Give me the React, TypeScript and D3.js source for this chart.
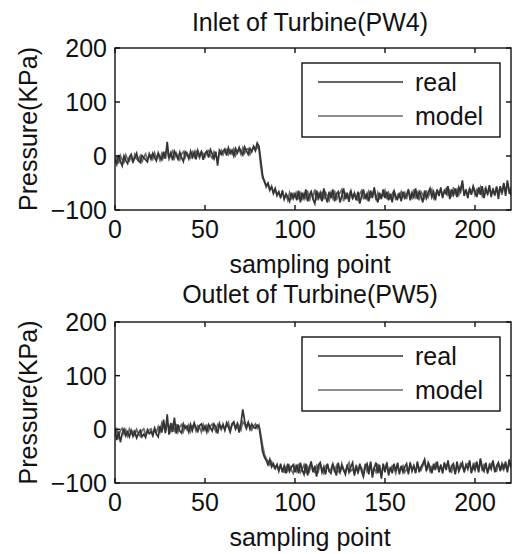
import React from "react";
import * as d3 from "d3";

const xTicks = [0, 50, 100, 150, 200];
const yTicks = [-100, 0, 100, 200];
const seriesNames = ["real", "model"];
const titles = ["Inlet of Turbine(PW4)", "Outlet of Turbine(PW5)"];
const xLabel = "sampling point";
const yLabel = "Pressure(KPa)";

const pw4Real = [
  -5,-15,2,-10,-18,0,-8,-14,-2,3,-10,-4,5,-8,-12,1,-3,-7,-11,4,
  -6,5,-3,-9,6,-2,-7,8,-5,26,-4,6,-8,9,2,-6,7,-3,-10,8,
  4,-5,9,-2,7,-6,10,0,8,-7,5,9,-3,12,4,-5,8,-18,10,3,
  9,13,1,15,5,11,0,14,6,16,8,2,17,10,3,14,8,18,11,24,
  18,-8,-35,-48,-55,-50,-62,-58,-68,-60,-72,-66,-78,-64,-80,-70,-76,-84,-68,-79,
  -70,-82,-64,-86,-68,-78,-62,-84,-72,-66,-80,-88,-64,-78,-68,-84,-60,-76,-86,-66,
  -78,-62,-84,-70,-66,-86,-74,-60,-80,-68,-85,-64,-78,-70,-82,-66,-88,-74,-62,-80,
  -70,-84,-64,-78,-58,-76,-86,-68,-80,-62,-78,-66,-82,-70,-86,-64,-76,-80,-68,-84,
  -66,-78,-72,-62,-82,-68,-76,-60,-80,-66,-74,-86,-64,-78,-68,-60,-76,-66,-82,-62,
  -74,-58,-78,-64,-70,-56,-80,-62,-72,-60,-76,-58,-66,-45,-74,-62,-78,-60,-72,-56,
  -66,-76,-58,-72,-56,-78,-62,-70,-54,-76,-60,-72,-58,-80,-56,-68,-50,-74,-45,-64,-72,
];
const pw4Model = [
  -10,-2,-14,1,-7,-12,2,-6,-9,-1,-13,3,-5,-9,0,-11,-2,4,-7,-1,
  2,-6,6,-4,3,-8,5,-3,7,10,-6,3,9,-4,6,-1,-7,4,8,-3,
  6,-1,-4,7,-2,9,3,-4,8,4,-2,7,10,1,-4,8,2,-8,6,11,
  2,9,12,3,11,4,13,1,9,12,3,15,5,12,14,3,10,17,9,19,
  12,-20,-42,-45,-58,-52,-64,-56,-70,-62,-74,-68,-76,-66,-78,-72,-82,-68,-78,-70,
  -76,-68,-80,-66,-82,-70,-78,-64,-84,-68,-76,-62,-82,-70,-78,-66,-80,-68,-74,-82,
  -68,-78,-64,-82,-72,-68,-62,-84,-70,-78,-74,-64,-80,-68,-76,-82,-70,-64,-78,-72,
  -80,-66,-76,-70,-62,-82,-68,-78,-72,-74,-64,-80,-68,-78,-70,-64,-82,-72,-76,-66,
  -76,-68,-80,-64,-72,-78,-62,-76,-68,-82,-66,-72,-78,-64,-76,-68,-62,-78,-70,-64,
  -70,-62,-74,-66,-60,-72,-64,-76,-58,-70,-62,-72,-58,-52,-70,-64,-74,-60,-68,-58,
  -72,-62,-68,-58,-74,-64,-58,-72,-60,-70,-62,-74,-56,-68,-60,-72,-52,-66,-50,-70,-58,
];
const pw5Real = [
  2,-20,-4,-24,-8,0,-12,-5,-14,-2,-13,-4,-16,-8,-2,-14,-9,-15,-1,-8,
  -4,-12,1,-9,-14,6,-6,18,-7,28,-10,12,-5,22,-8,9,-3,-7,10,2,
  6,-5,9,-2,12,3,-4,7,10,-1,6,-5,9,3,-3,10,4,-8,11,2,
  8,-2,12,4,-5,10,14,1,9,-6,12,37,16,3,13,0,10,4,2,8,
  5,-18,-42,-52,-58,-66,-56,-70,-64,-72,-66,-78,-64,-80,-68,-82,-64,-78,-70,-66,
  -80,-66,-82,-62,-76,-84,-64,-86,-70,-60,-80,-68,-88,-66,-62,-80,-70,-84,-64,-78,
  -82,-64,-76,-86,-62,-80,-68,-76,-84,-66,-80,-70,-62,-86,-68,-82,-64,-78,-88,-70,
  -64,-84,-60,-90,-72,-62,-82,-66,-92,-64,-80,-62,-86,-70,-82,-64,-78,-62,-84,-68,
  -80,-70,-64,-84,-62,-78,-68,-82,-60,-80,-70,-64,-56,-78,-62,-70,-82,-64,-76,-60,
  -80,-66,-82,-62,-76,-58,-80,-68,-64,-84,-60,-78,-70,-62,-80,-66,-74,-58,-82,-66,
  -76,-60,-80,-54,-70,-78,-62,-82,-66,-74,-58,-80,-68,-62,-78,-64,-74,-60,-80,-56,-70,
];
const pw5Model = [
  -8,0,-14,-2,2,-9,-1,-12,1,-7,-3,-10,0,-8,-13,-2,1,-10,-6,-1,
  1,-9,3,-6,5,-5,12,4,-4,8,6,-4,8,-2,10,-5,5,9,-4,6,
  -1,8,-4,6,10,-3,7,4,-5,9,-1,7,-3,6,10,3,-4,9,5,-1,
  10,0,7,13,-2,8,11,1,12,6,-1,14,9,1,12,7,-1,6,10,2,
  8,-10,-30,-46,-54,-60,-66,-60,-70,-74,-66,-76,-68,-78,-80,-70,-78,-68,-76,-82,
  -68,-78,-64,-80,-74,-66,-82,-70,-78,-64,-76,-80,-68,-78,-64,-74,-82,-68,-66,-78,
  -74,-64,-80,-68,-78,-82,-64,-74,-80,-68,-62,-78,-74,-82,-66,-80,-68,-72,-84,-64,
  -78,-70,-64,-82,-72,-80,-64,-78,-86,-68,-74,-64,-80,-76,-68,-72,-82,-66,-78,-74,
  -68,-80,-74,-78,-64,-74,-68,-80,-64,-72,-76,-68,-60,-76,-66,-78,-70,-74,-64,-70,
  -74,-68,-78,-64,-70,-62,-76,-80,-66,-82,-70,-74,-64,-70,-78,-68,-64,-62,-78,-74,
  -64,-70,-76,-58,-78,-66,-70,-80,-72,-64,-62,-76,-78,-64,-70,-74,-66,-70,-76,-62,-72,
];

const panels = [
  { title: titles[0], real: pw4Real, model: pw4Model, top: 48, bottom: 210, titleY: 31, labelY: 273 },
  { title: titles[1], real: pw5Real, model: pw5Model, top: 322, bottom: 483, titleY: 303, labelY: 546 },
];

const LEFT = 115;
const RIGHT = 511;
const FONT = "'Liberation Sans', Arial, sans-serif";
const FS = 25;
const colors = { real: "#333333", model: "#6a6a6a" };

function Panel({ p }: { p: (typeof panels)[number] }) {
  const x = d3.scaleLinear().domain([0, 220]).range([LEFT, RIGHT]);
  const y = d3.scaleLinear().domain([-100, 200]).range([p.bottom, p.top]);
  const line = d3
    .line<number>()
    .x((_, i) => x(i))
    .y((d) => y(d));
  const tl = 5;
  const lgX0 = 302;
  const lgY0 = p.top + 15;
  return (
    <g fontFamily={FONT} fontSize={FS} fill="#111">
      <text x={310} y={p.titleY} textAnchor="middle">{p.title}</text>
      <defs>
        <clipPath id={"clip" + p.top}>
          <rect x={LEFT} y={p.top} width={RIGHT - LEFT} height={p.bottom - p.top} />
        </clipPath>
      </defs>
      <g clipPath={`url(#clip${p.top})`}>
        <path d={line(p.model) || ""} fill="none" stroke={colors.model} strokeWidth={1.7} />
        <path d={line(p.real) || ""} fill="none" stroke={colors.real} strokeWidth={1.7} />
      </g>
      <rect x={LEFT} y={p.top} width={RIGHT - LEFT} height={p.bottom - p.top} fill="none" stroke="#111" strokeWidth={1.4} />
      {xTicks.map((t) => (
        <g key={"x" + t}>
          <line x1={x(t)} x2={x(t)} y1={p.bottom} y2={p.bottom - tl} stroke="#111" strokeWidth={1.4} />
          <line x1={x(t)} x2={x(t)} y1={p.top} y2={p.top + tl} stroke="#111" strokeWidth={1.4} />
          <text x={x(t)} y={p.bottom + 28} textAnchor="middle">{t}</text>
        </g>
      ))}
      {yTicks.map((t) => (
        <g key={"y" + t}>
          <line x1={LEFT} x2={LEFT + tl} y1={y(t)} y2={y(t)} stroke="#111" strokeWidth={1.4} />
          <line x1={RIGHT} x2={RIGHT - tl} y1={y(t)} y2={y(t)} stroke="#111" strokeWidth={1.4} />
          <text x={107} y={y(t) + 9} textAnchor="end">{t < 0 ? "\u2212" + Math.abs(t) : t}</text>
        </g>
      ))}
      <text x={310} y={p.labelY} textAnchor="middle">{xLabel}</text>
      <text transform={`translate(37,${(p.top + p.bottom) / 2}) rotate(-90)`} textAnchor="middle">{yLabel}</text>
      <rect x={lgX0} y={lgY0} width={198} height={74} fill="#fff" stroke="#111" strokeWidth={1.4} />
      {seriesNames.map((s, i) => (
        <g key={s}>
          <line x1={318} x2={403} y1={lgY0 + 19 + i * 34} y2={lgY0 + 19 + i * 34} stroke={(colors as any)[s]} strokeWidth={1.7} />
          <text x={415} y={lgY0 + 28 + i * 34}>{s}</text>
        </g>
      ))}
    </g>
  );
}

export default function App() {
  return (
    <svg width={514} height={554} style={{ position: "absolute", left: 0, top: 0, background: "#fff" }}>
      <rect width={514} height={554} fill="#fff" />
      {panels.map((p) => (
        <Panel key={p.title} p={p} />
      ))}
    </svg>
  );
}
